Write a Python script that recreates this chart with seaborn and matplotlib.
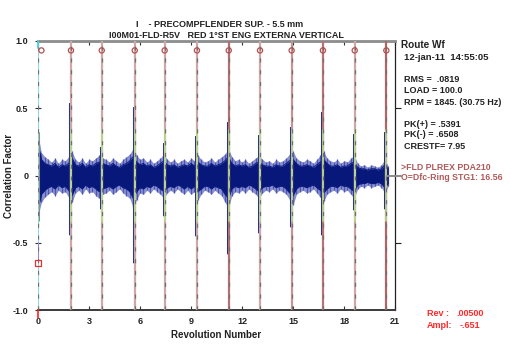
import numpy as np
import matplotlib
matplotlib.use("Agg")
import matplotlib.pyplot as plt
import seaborn as sns

# ---------------- data ----------------
# ring-order marker positions (revolutions)
marker_x = [0.0, 1.94, 3.75, 5.69, 7.45, 9.35, 11.22, 13.06, 14.92, 16.76, 18.63, 20.49]
circle_x = [0.2, 1.94, 3.75, 5.69, 7.45, 9.35, 11.22, 13.06, 14.92, 16.76, 18.63, 20.49]
circle_y = [0.93] * 12

# waveform outer envelope (light fringe) sampled every 0.2 revolution (0 .. 20.6)
env_step = 0.2
upper_outer = [
    0.30, 0.17, 0.14, 0.12, 0.10, 0.13, 0.09, 0.12, 0.11, 0.14,
    0.18, 0.12, 0.10, 0.13, 0.09, 0.12, 0.11, 0.13, 0.15, 0.13,
    0.12, 0.10, 0.13, 0.11, 0.09, 0.12, 0.14, 0.16, 0.20, 0.15,
    0.12, 0.13, 0.10, 0.12, 0.09, 0.11, 0.13, 0.16, 0.12, 0.10,
    0.12, 0.09, 0.11, 0.12, 0.10, 0.13, 0.11, 0.15, 0.12, 0.10,
    0.11, 0.13, 0.10, 0.12, 0.14, 0.16, 0.20, 0.14, 0.11, 0.12,
    0.10, 0.12, 0.09, 0.11, 0.13, 0.15, 0.12, 0.10, 0.11, 0.09,
    0.12, 0.10, 0.11, 0.13, 0.16, 0.18, 0.13, 0.11, 0.10, 0.12,
    0.11, 0.09, 0.12, 0.15, 0.18, 0.13, 0.11, 0.10, 0.12, 0.09,
    0.11, 0.10, 0.13, 0.15, 0.09, 0.07, 0.08, 0.06, 0.08, 0.07,
    0.06, 0.08, 0.12, 0.07,
]
lower_outer = [
    -0.30, -0.20, -0.16, -0.14, -0.12, -0.15, -0.11, -0.13, -0.12, -0.16,
    -0.20, -0.13, -0.11, -0.14, -0.10, -0.13, -0.12, -0.15, -0.17, -0.14,
    -0.13, -0.11, -0.14, -0.12, -0.10, -0.13, -0.15, -0.17, -0.24, -0.18,
    -0.13, -0.14, -0.11, -0.13, -0.10, -0.12, -0.14, -0.17, -0.13, -0.11,
    -0.13, -0.10, -0.12, -0.14, -0.11, -0.14, -0.12, -0.18, -0.14, -0.11,
    -0.12, -0.14, -0.11, -0.13, -0.15, -0.20, -0.24, -0.15, -0.12, -0.13,
    -0.11, -0.13, -0.10, -0.12, -0.14, -0.17, -0.13, -0.11, -0.12, -0.10,
    -0.13, -0.11, -0.12, -0.14, -0.18, -0.22, -0.14, -0.12, -0.11, -0.13,
    -0.12, -0.10, -0.13, -0.16, -0.19, -0.14, -0.12, -0.11, -0.13, -0.10,
    -0.12, -0.11, -0.14, -0.17, -0.10, -0.08, -0.09, -0.07, -0.09, -0.08,
    -0.07, -0.09, -0.13, -0.08,
]

# dense (dark) core of the waveform, same 0.2 revolution sampling
upper_core = [
    0.24, 0.12, 0.09, 0.08, 0.07, 0.09, 0.06, 0.08, 0.07, 0.09,
    0.13, 0.08, 0.07, 0.09, 0.06, 0.08, 0.07, 0.09, 0.10, 0.09,
    0.08, 0.07, 0.09, 0.07, 0.06, 0.08, 0.09, 0.11, 0.14, 0.10,
    0.08, 0.09, 0.07, 0.08, 0.06, 0.07, 0.09, 0.11, 0.08, 0.07,
    0.08, 0.06, 0.07, 0.08, 0.07, 0.09, 0.07, 0.10, 0.08, 0.07,
    0.07, 0.09, 0.07, 0.08, 0.09, 0.11, 0.14, 0.09, 0.07, 0.08,
    0.07, 0.08, 0.06, 0.07, 0.09, 0.10, 0.08, 0.07, 0.07, 0.06,
    0.08, 0.07, 0.07, 0.09, 0.11, 0.12, 0.09, 0.07, 0.07, 0.08,
    0.07, 0.06, 0.08, 0.10, 0.12, 0.09, 0.07, 0.07, 0.08, 0.06,
    0.07, 0.07, 0.09, 0.10, 0.06, 0.05, 0.05, 0.04, 0.05, 0.05,
    0.04, 0.05, 0.08, 0.05,
]
lower_core = [
    -0.25, -0.14, -0.11, -0.09, -0.08, -0.10, -0.07, -0.09, -0.08, -0.11,
    -0.15, -0.09, -0.08, -0.10, -0.07, -0.09, -0.08, -0.10, -0.12, -0.10,
    -0.09, -0.08, -0.10, -0.08, -0.07, -0.09, -0.10, -0.12, -0.17, -0.12,
    -0.09, -0.10, -0.08, -0.09, -0.07, -0.08, -0.10, -0.12, -0.09, -0.08,
    -0.09, -0.07, -0.08, -0.10, -0.08, -0.10, -0.08, -0.12, -0.10, -0.08,
    -0.08, -0.10, -0.08, -0.09, -0.10, -0.14, -0.17, -0.10, -0.08, -0.09,
    -0.08, -0.09, -0.07, -0.08, -0.10, -0.12, -0.09, -0.08, -0.08, -0.07,
    -0.09, -0.08, -0.08, -0.10, -0.13, -0.15, -0.10, -0.08, -0.08, -0.09,
    -0.08, -0.07, -0.09, -0.11, -0.13, -0.10, -0.08, -0.08, -0.09, -0.07,
    -0.08, -0.08, -0.10, -0.12, -0.07, -0.06, -0.06, -0.05, -0.06, -0.06,
    -0.05, -0.06, -0.09, -0.06,
]

# impact spikes just ahead of each marker
spike_x = [0.02, 1.90, 3.70, 5.63, 7.40, 9.30, 11.15, 13.00, 14.86, 16.70, 18.57, 20.43]
spike_up = [0.32, 0.54, 0.21, 0.51, 0.24, 0.29, 0.40, 0.30, 0.36, 0.47, 0.31, 0.32]
spike_dn = [-0.34, -0.44, -0.25, -0.65, -0.30, -0.45, -0.58, -0.43, -0.38, -0.44, -0.26, -0.25]

x_ticks = [0, 3, 6, 9, 12, 15, 18, 21]
y_ticks = [1.0, 0.5, 0.0, -0.5, -1.0]
y_ticklabels = ["1.0", "0.5", "0", "-0.5", "-1.0"]

cursor_rev = 0.0
cursor_ampl = -0.651

title1 = "I    - PRECOMPFLENDER SUP. - 5.5 mm"
title2 = "I00M01-FLD-R5V   RED 1\u00b0ST ENG EXTERNA VERTICAL"
info_lines = ["RMS =  .0819", "LOAD = 100.0", "RPM = 1845. (30.75 Hz)"]
pk_lines = ["PK(+) = .5391", "PK(-) = .6508", "CRESTF= 7.95"]
note_lines = [">FLD PLREX PDA210", "O=Dfc-Ring STG1: 16.56"]

# ---------------- styling ----------------
sns.set_theme(style="white")
plt.rcParams["font.family"] = ["Liberation Sans", "DejaVu Sans"]
plt.rcParams["font.weight"] = "bold"
plt.rcParams["lines.scale_dashes"] = False

W, H = 511, 347
fig = plt.figure(figsize=(W / 100, H / 100), dpi=100)
fig.patch.set_facecolor("white")
L, R, T, B = 38, 395, 41, 310
ax = fig.add_axes([L / W, 1 - B / H, (R - L) / W, (B - T) / H])
ax.set_facecolor("white")

x_env = np.arange(len(upper_outer)) * env_step

# waveform
ax.fill_between(x_env, lower_outer, upper_outer, color="#8a91d0", lw=0, zorder=2)
ax.vlines(x_env, lower_outer, upper_outer, color="#4b55b2", lw=0.9, zorder=2)
ax.fill_between(x_env, lower_core, upper_core, color="#07177a", lw=0, zorder=3)
sns.lineplot(x=x_env, y=upper_core, ax=ax, color="#0c1c80", lw=0.7, zorder=3)
sns.lineplot(x=x_env, y=lower_core, ax=ax, color="#0c1c80", lw=0.7, zorder=3)
ax.vlines(spike_x, spike_dn, spike_up, color="#7c84cc", lw=2.2, zorder=3)
ax.vlines(spike_x, spike_dn, spike_up, color="#07177a", lw=1.2, zorder=4)

# marker lines
line_cols = ["#cca8a8", "#cca8a8", "#cca8a8", "#cca8a8", "#cca8a8",
             "#b37070", "#cca8a8", "#c39595", "#b87575", "#cca8a8", "#b36565"]
for m, c in zip(marker_x[1:], line_cols):
    ax.axvline(m, color=c, lw=1.6, zorder=5)
    ax.axvline(m, ymin=0.33, ymax=0.67, color="#b4dc88", lw=1.2, zorder=5)
    ax.axvline(m, color="#707070", lw=0.9, dashes=(3, 5.5), zorder=6)

# cursor line at rev 0
ax.axvline(marker_x[0], color="#8adcdc", lw=1.5, zorder=5)
ax.axvline(marker_x[0], ymin=0.33, ymax=0.67, color="#a8dc6c", lw=1.2, zorder=5)
ax.axvline(marker_x[0], ymin=0.19, ymax=0.25, color="#a070e0", lw=1.2, zorder=5)
ax.axvline(marker_x[0], color="#707070", lw=0.9, dashes=(3, 5.5), zorder=6)
ax.plot([cursor_rev], [cursor_ampl], marker="s", ms=4, mfc="none", mec="#e03030",
        mew=0.9, zorder=7, clip_on=False)
ax.plot([0, 0], [-1.0, -1.06], color="#ff2020", lw=1.2, clip_on=False, zorder=7)
ax.plot([0, 0], [1.0, 0.95], color="#40d0d0", lw=1.2, clip_on=False, zorder=7)

# order circles
sns.scatterplot(x=circle_x, y=circle_y, ax=ax, marker="o", s=14,
                facecolor="none", edgecolor="#b45050", linewidth=0.9, zorder=8)

# small zero reference stub at the right edge
ax.plot([20.55, 21.35], [0, 0], color="#8a8a8a", lw=1.4, clip_on=False, zorder=7)

ax.set_xlim(0, 21)
ax.set_ylim(-1, 1)
ax.set_xticks(x_ticks)
ax.set_xticklabels([str(t) for t in x_ticks])
ax.set_yticks(y_ticks)
ax.set_yticklabels(y_ticklabels)
ax.tick_params(axis="x", bottom=True, top=True, direction="in", length=3, width=0.8,
               color="#333333", labelsize=6.5, labelcolor="#222222", pad=5)
ax.tick_params(axis="y", left=True, direction="inout", length=4, width=0.8,
               color="#333333", labelsize=6.5, labelcolor="#222222", pad=5)
for lab in ax.get_xticklabels() + ax.get_yticklabels():
    lab.set_fontweight("bold")

ax.spines["left"].set_visible(False)
ax.spines["top"].set_color("#8c8c8c")
ax.spines["top"].set_linewidth(2.0)
ax.spines["bottom"].set_color("#3a3a3a")
ax.spines["bottom"].set_linewidth(1.4)
ax.spines["right"].set_color("#222222")
ax.spines["right"].set_linewidth(0.9)

sec = ax.secondary_yaxis("right")
sec.set_yticks([0.5, -0.5])
sec.set_yticklabels(["", ""])
sec.tick_params(direction="out", length=4, width=0.8, color="#222222")
sec.spines["right"].set_visible(False)

ax.set_xlabel("Revolution Number", fontsize=7, fontweight="bold", color="#222222", labelpad=3)
ax.set_ylabel("Correlation Factor", fontsize=7, fontweight="bold", color="#222222")
ax.yaxis.set_label_coords((14 - L) / (R - L), 0.5)
ax.grid(False)

def fy(py):
    return 1 - py / H

fig.text(220 / W, fy(24.5), title1, ha="center", va="center", fontsize=6.5,
         fontweight="bold", color="#222222")
fig.text(226 / W, fy(35), title2, ha="center", va="center", fontsize=6.5,
         fontweight="bold", color="#222222")

fig.text(401 / W, fy(44.5), "Route Wf", ha="left", va="center", fontsize=7.2,
         fontweight="bold", color="#222222")
fig.text(404 / W, fy(57), "12-jan-11  14:55:05", ha="left", va="center", fontsize=6.8,
         fontweight="bold", color="#222222")
for i, s in enumerate(info_lines):
    fig.text(404 / W, fy(79 + 11.5 * i), s, ha="left", va="center", fontsize=6.5,
             fontweight="bold", color="#222222")
for i, s in enumerate(pk_lines):
    fig.text(404 / W, fy(124 + 11 * i), s, ha="left", va="center", fontsize=6.5,
             fontweight="bold", color="#222222")
for i, s in enumerate(note_lines):
    fig.text(401 / W, fy(167 + 11 * i), s, ha="left", va="center", fontsize=6.3,
             fontweight="bold", color="#b05a5a")

fig.text(427 / W, fy(314), "Rev :", ha="left", va="center", fontsize=6.5,
         fontweight="bold", color="#ff2a2a")
fig.text(484 / W, fy(314), ".00500", ha="right", va="center", fontsize=6.5,
         fontweight="bold", color="#ff2a2a")
fig.text(427 / W, fy(326), "Ampl:", ha="left", va="center", fontsize=6.5,
         fontweight="bold", color="#ff2a2a")
fig.text(480 / W, fy(326), "-.651", ha="right", va="center", fontsize=6.5,
         fontweight="bold", color="#ff2a2a")

fig.savefig("out.png", dpi=100, facecolor="white")
